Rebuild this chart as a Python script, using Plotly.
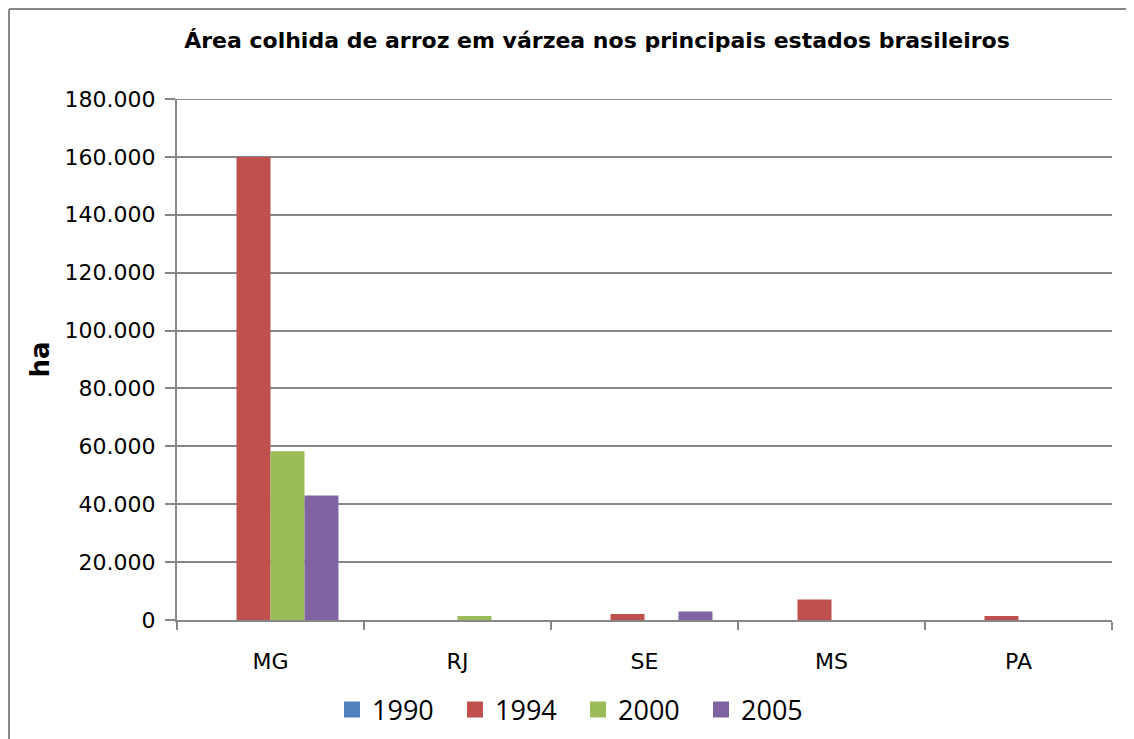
import plotly.graph_objects as go

categories = ["MG", "RJ", "SE", "MS", "PA"]
years = ["1990", "1994", "2000", "2005"]
v1990 = [0, 0, 0, 0, 0]
v1994 = [160000, 0, 2100, 7100, 1400]
v2000 = [58300, 1400, 0, 0, 0]
v2005 = [43000, 0, 2900, 0, 0]
colors = ["#4F81BD", "#C0504D", "#9BBB59", "#8064A2"]
yticks = [0, 20000, 40000, 60000, 80000, 100000, 120000, 140000, 160000, 180000]

# figure is placed at (8, 8) in the page by the default body margin
W, H = 1134, 739
L, R, T, B = 169, 30, 91, 127
pw, ph = W - L - R, H - T - B
GRID = "#878787"

fig = go.Figure()
for name, vals, c in zip(years, [v1990, v1994, v2000, v2005], colors):
    fig.add_trace(go.Bar(x=categories, y=vals, name=name, showlegend=False,
                         marker=dict(color=c, line=dict(width=0))))
# legend entries with larger square keys
for name, c in zip(years, colors):
    fig.add_trace(go.Scatter(x=[None], y=[None], name=name, mode="markers",
                             marker=dict(symbol="square", size=18, color=c)))

def fx(p):
    return (p - L) / pw

def fy(p):
    return 1 - (p - T) / ph

fig.update_layout(
    width=W, height=H,
    margin=dict(l=L, r=R, t=T, b=B),
    paper_bgcolor="white", plot_bgcolor="white",
    separators=",.",
    barmode="group", bargap=0.273, bargroupgap=0,
    font=dict(family="DejaVu Sans", color="black"),
    title=dict(text="<b>Área colhida de arroz em várzea nos principais estados brasileiros</b>",
               x=589 / W, xanchor="center", y=1 - 32 / H, yanchor="middle",
               font=dict(family="DejaVu Sans", size=22, color="black")),
    legend=dict(orientation="h", x=fx(570), xanchor="center", y=fy(702), yanchor="middle",
                font=dict(family="Open Sans", size=27, color="black"), itemwidth=30,
                entrywidth=78, entrywidthmode="pixels",
                traceorder="normal", tracegroupgap=0),
    xaxis=dict(showgrid=False, showline=True, linecolor=GRID, linewidth=2,
               ticks="outside", tickson="boundaries", ticklen=8, tickcolor=GRID, tickwidth=2,
               ticklabelstandoff=21,
               tickfont=dict(family="DejaVu Sans", size=22, color="black")),
    yaxis=dict(range=[0, 180000], tickvals=yticks, tickformat=",d",
               showgrid=True, gridcolor=GRID, gridwidth=2,
               showline=True, linecolor=GRID, linewidth=2,
               ticks="outside", ticklen=10, tickcolor=GRID, tickwidth=2,
               ticklabelstandoff=5,
               tickfont=dict(family="DejaVu Sans", size=22, color="black"),
               title=dict(text="<b>ha</b>", font=dict(family="DejaVu Sans", size=26, color="black"),
                          standoff=8),
               zeroline=False),
)

# top gridline at the range edge
fig.add_shape(type="line", xref="paper", yref="y", x0=0, x1=1, y0=180000, y1=180000,
              line=dict(color=GRID, width=2), layer="below")

# outer chart border (left and top edges visible)
fig.add_shape(type="line", xref="paper", yref="paper", x0=fx(1), x1=fx(1), y0=fy(1), y1=fy(H + 5),
              line=dict(color=GRID, width=2))
fig.add_shape(type="line", xref="paper", yref="paper", x0=fx(1), x1=fx(W + 5), y0=fy(1), y1=fy(1),
              line=dict(color=GRID, width=2))

fig.write_html("out.html")
